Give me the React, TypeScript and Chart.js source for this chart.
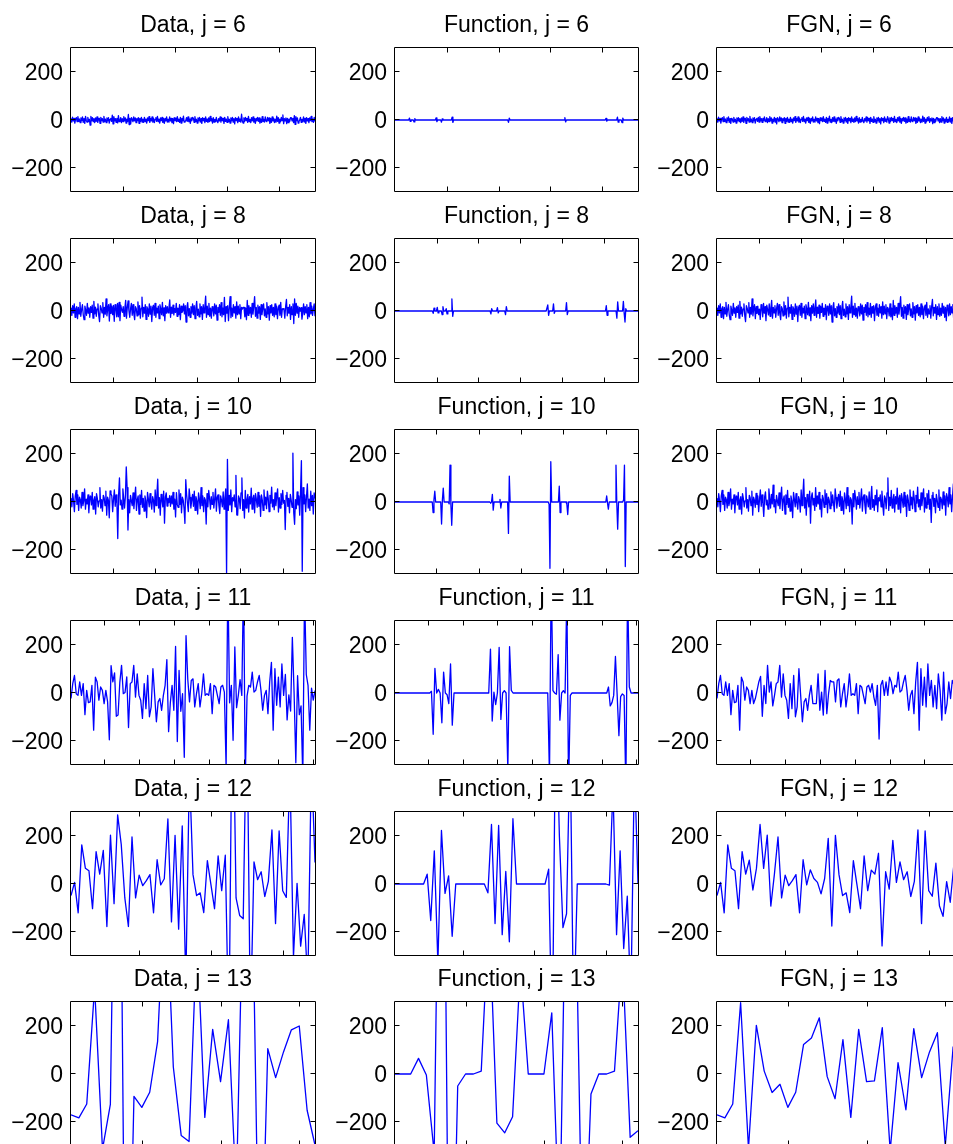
import React, { useEffect, useRef } from 'react';
import { Chart, registerables } from 'chart.js';

Chart.register(...registerables);

const FONT = '"Liberation Sans", Arial, Helvetica, sans-serif';

// ---------- axes / layout description ----------
const levels = [6, 8, 10, 11, 12, 13];
const columnNames = ['Data', 'Function', 'FGN'];
const yTicks = [-200, 0, 200];
const yMin = -300;
const yMax = 300;
const lengths6 = 4692;
const lengths8 = 1165;
const lengths10 = 288;
const lengths11 = 141;
const lengths12 = 69;
const lengths13 = 32;
const xTicks6 = [1000, 2000, 3000, 4000];
const xTicks8 = [200, 400, 600, 800, 1000];
const xTicks10 = [50, 100, 150, 200, 250];
const xTicks11 = [20, 40, 60, 80, 100, 120, 140];
const xTicks12 = [20, 40, 60];
const xTicks13 = [10, 20, 30];

// ---------- j = 13 ----------
const fgn13 = [-170, -183, -125, 297, -310, 203, 12, -77, -43, -139, -76, 123, 150, 234, -11, -103, 143, -181, 186, -32, -29, 193, -320, 47, -149, 189, -15, 92, 172, -300, 113, -60];
const func13 = [0, 0, 0, 65, -4, -330, 2100, -1500, -50, 0, 0, 12, 675, -205, -245, -178, 450, 0, 0, 0, 255, -700, 1300, 845, -973, -83, 0, 0, 12, 500, -264, -236];

// ---------- j = 12 ----------
const fgn12 = [-48, 7, -120, 163, 66, 55, -103, 135, 41, 99, -25, 66, 248, 65, 204, -92, 41, 196, -58, 37, -7, 14, 39, -120, 101, -4, 59, 23, 7, -41, 23, 190, -175, 203, 39, -48, -37, -119, 97, -3, -103, 117, -28, 58, 41, 128, -258, 51, -21, 182, 7, 92, 18, 51, -52, 11, 225, -165, 221, -28, -51, 87, -92, -135, 10, -76, 79, 20, 90];
const func12 = [0, 0, 0, 0, 0, 0, 0, 0, 0, 41, -152, 138, -330, 223, -39, 34, -218, 0, 0, 0, 0, 0, 0, 0, 0, 0, -37, 248, -165, 244, -211, 52, -241, 272, 0, 0, 0, 0, 0, 0, 0, 0, 0, 62, -700, 800, 200, -182, -124, 600, -600, 0, 0, 0, 0, 0, 0, 0, 0, 0, -5, 400, -211, 138, -269, -51, -500, 500, 0];

// ---------- j = 11 ----------
const fgn11 = [-23, 39, 73, -3, -10, 46, -10, 39, -90, 11, -40, -37, 32, -155, 66, 46, -30, 25, 11, -44, 11, -44, -23, 11, 46, 69, -97, 32, -44, 115, 4, 46, -54, -10, 39, 46, 115, -17, 80, -10, -30, -106, 39, -65, 73, -99, -58, 101, -10, -120, -37, -23, -72, -10, 32, -44, -44, -44, 80, -72, 4, -92, 94, -86, -3, 52, 46, 46, -37, 52, 59, -58, -3, 39, -58, -3, 80, -10, -3, -10, 39, -86, 32, 25, -10, -44, 25, 32, 4, 39, -17, -51, 32, -192, 32, 52, -10, 46, -10, 66, 46, -3, 32, 25, 87, 4, 11, 46, 73, 11, -72, -10, 11, -86, 46, 128, -155, 101, -51, 66, -58, 121, -10, 52, -58, 32, -65, 80, 11, -113, 87, -86, -44, 46, -23, 52, 32, -155, 20, -30, 10];
const func11 = [
  0, 0, 0, 0, 0, 0, 0, 0, 0, 0, 0, 0, 0, 0, 0, 0, 0, 0, 0, 0, 0,
  7, -172, 103, 0, 15, 0, -124, 87, 0, -7, -44, 121, -134,
  0, 0, 0, 0, 0, 0, 0, 0, 0, 0, 0, 0, 0, 0, 0, 0, 0, 0, 0, 0, 0,
  183, -117, 4, -48, 0, 190, -110, 0, 10, 0, -320, 193, 11,
  0, 0, 0, 0, 0, 0, 0, 0, 0, 0, 0, 0, 0, 0, 0, 0, 0, 0, 0, 0, 0,
  -350, 500, 10, 0, -5, 160, -113, 0, 10, 0, 420, -400, -10,
  0, 0, 0, 0, 0, 0, 0, 0, 0, 0, 0, 0, 0, 0, 0, 0, 0, 0, 0, 0, 0,
  25, -54, -40, -10, 152, -10, -178, -15, -4, -10, -400, 450, 25,
  0, 0, 0, 0, 0,
];

// ---------- j = 10 ----------
const fgn10 = [
  15, -20, 35, 5, -40, 25, 48, -10, 30, -35, 20, 10, -25, 40, -15, 5, 55, -30, 12, -8, 30, -45, 18, 25,
  -12, 40, -30, 8, 22, -50, 35, 15, -20, 5, 60, -25, 10, -38, 28, 18, -15, 45, -55, 20, 8, -22, 36, -10,
  25, -40, 12, 50, -18, 30, -5, -60, 20, 42, -12, 8, -30, 55, 15, -25, 32, -8, 70, -20, 10, -45, 28, 5,
  -15, 38, -28, 18, 62, -35, 10, 25, -50, 30, -10, 48, -22, 15, -38, 25, 5, -65, 40, 12, -20, 35, -5, -30,
  22, 8, -42, 50, -15, 28, 95, -25, 18, -55, 32, 10, -20, 45, -88, 20, 38, -12, 15, -35, 60, -18, 25, -8,
  40, -30, 12, -62, 28, 15, -22, 50, -10, 35, -45, 20, 8, -28, 42, -15, 30, -5, -40, 55, 18, -25, 10, 32,
  -18, 45, -35, 22, 5, -50, 38, 12, -28, 60, -15, 25, -40, 18, 8, -92, 35, -20, 48, 15, -30, 22, -10, 40,
  -25, 12, 55, -38, 20, 30, -15, -48, 25, 8, -20, 42, -30, 15, 65, -22, 10, -35, 28, -12, 50, -40, 18, 5,
  30, -20, 45, -10, -55, 25, 15, -28, 38, 100, -35, 20, -15, 48, -25, 10, 32, -42, 22, -8, 58, -30, 15, 28,
  -45, 35, 12, -22, 40, -18, 25, -60, 30, 8, -35, 50, -12, 20, -28, 45, 15, -40, 28, -5, 62, -20, 10, -32,
  38, -15, 22, 55, -42, 18, -25, 35, -10, 48, -30, 12, -85, 28, 40, -18, 15, -45, 32, 8, -22, 50, -35, 20,
  10, -28, 42, -12, 25, -55, 35, 18, -20, 60, -8, 30, -40, 22, 75, -25, 12, -35, 45, -15, 28, -50, 38, 15,
];
// [sample number, value] of the non-zero coefficients of the function
const func10Spikes: [number, number][] = [
  [46, -44], [47, 10], [48, 45], [56, -92], [57, 10], [58, 58], [65, -8], [66, 154], [67, -10], [68, -97],
  [114, -5], [116, 32], [117, -34], [125, 11], [126, -25], [135, -131], [136, 108],
  [183, -10], [184, -276], [185, 168], [195, 66], [196, -44], [204, -10], [205, -52],
  [251, 25], [252, -5], [253, -30], [262, 154], [263, -10], [264, -113], [271, 10], [272, 154], [273, -269],
];

// ---------- j = 8 (sampled) ----------
const fgn8 = [
  12, -18, 22, -8, 30, -26, 9, 18, -32, 15, -12, 36, -22, 7, 26, -15, -36, 20, 4, -18, 32, -9, 13, -26, 18,
  -6, 24, -30, 40, -12, 16, -22, 9, 30, -18, -44, 22, 12, -8, 35, -26, 15, -13, 50, -20, 9, 26, -32, 18, -10,
  20, -15, 8, -35, 26, 13, -24, 32, -9, 18, -40, 24, 6, -16, 30, -22, 12, 44, -30, 15, -8, 22, -26, 10, 32,
  -18, 26, -12, -36, 18, 9, -20, 38, -15, 22, -30, 12, 58, -24, 15, -9, 26, -35, 18, 8, -22, 30, -13, 20, -44,
  15, 24, -18, 32, -26, 12, -8, 20, -32, 26, 9, -15, 36, -20, 13, -40, 22, -9, 30, -18, 12, 46, -26, 16, -10,
  24, -30, 18, -6, 32, -22, 12, -15, 26, -36, 20, 9, -18, 30, -12, 22, -46, 15, 35, -20, 10, -26, 18, -9, 30,
  -15, 22, -32, 12, 40, -18, 8, -24, 30, -12, 18, -35, 26, -8, 15, 62, -26, 20, -15, 32, -22, 12, -30, 18, 9,
  -20, 30, -12, 24, -38, 15, -6, 26, -18, 35, -24, 12, -15, 32, -26, 18, -9, 22, -40, 15, 30, -18, 12, -22, 26,
  -8, 18, -30, 38, -15, 20, -12, 26, -32, 15, 8, -20, 30, -24, 12, -36, 44, -18, 22, -9, 15, -26, 32, -13, 20,
  60, -22, 15, -30, 24, -9, 18, -35, 26, -15, 12, 30, -20, 9, -26, 35, -12, 18, -38, 22, -8, 26, -18, 15, -24,
  30, -15, 20, -32, 12, 24, -18, 36, -26, 9, -12, 22, -30, 18, 48, -20, 15, -9, 26, -35, 18, -15, 30, -22, 12,
  -18, 32, -9, 20, -26, 15, -40, 24, 12, -20, 30, -15, 18, -8, 26, -32, 15, -24, 35, -12, 20, -18, 9, 30, -22,
];
const func8Spikes: [number, number][] = [
  [48, -10], [49, 12], [53, 15], [54, -8], [59, -15], [60, 18], [64, 10], [65, -12], [71, 50], [72, -22],
  [119, -12], [120, 10], [127, 14], [128, -8], [137, -15], [138, 18],
  [189, 25], [190, -18], [196, 30], [197, -10], [212, 35], [213, -15],
  [261, 22], [262, -18], [274, -30], [275, 38], [282, 40], [283, -10], [284, -46], [285, 10],
];

// ---------- j = 6 (sampled) ----------
const fgn6 = [
  6, -9, 12, -4, 7, -13, 3, 10, -7, 14, -6, 4, -11, 9, -3, 13, -10, 6, -14, 7, 4, -9, 11, -6, 3, -13, 9, -4, 10, -7, 6, -11,
  9, -6, 13, -10, 4, 7, -14, 11, -3, 6, -9, 15, -7, 4, -11, 9, -4, 10, -13, 3, 7, -6, 11, -9, 14, -4, 6, -10, 7, -3, 13, -7,
  -4, 10, -11, 6, -7, 14, -3, 9, -13, 4, -6, 11, -9, 7, -16, 10, 3, -7, 13, -4, 9, -11, 6, -3, 10, -14, 7, -6, 11, -9, 4, -10,
  11, -7, 4, -13, 9, -3, 14, -10, 6, -4, 13, -9, 7, -11, 3, 10, -6, 15, -7, 4, -13, 9, -3, 11, -10, 6, -14, 7, -4, 13, -9, 3,
  -9, 13, -4, 7, -11, 6, -15, 10, -3, 9, -7, 14, -6, 4, -10, 11, -13, 7, -4, 16, -9, 3, -11, 10, -6, 13, -7, 4, -14, 9, -3, 11,
  7, -10, 14, -6, 3, -13, 9, -4, 11, -9, 6, -14, 10, -3, 7, -11, 13, -6, 4, -10, 9, -7, 15, -4, 6, -13, 10, -9, 3, -7, 11, -6,
  -11, 6, -4, 13, -9, 10, -3, 7, -14, 11, -6, 4, -10, 14, -7, 3, -13, 9, -4, 11, -9, 6, -16, 10, -3, 7, -11, 13, -6, 4, -9, 14,
  4, -13, 9, -6, 11, -3, 7, -10, 15, -7, 3, -11, 10, -4, 13, -9, 6, -14, 7, -3, 11, -6, 9, -13, 4, -10, 14, -7, 3, -9, 13, -4,
  -7, 11, -3, 9, -14, 6, -10, 13, -4, 7, -11, 3, -9, 16, -6, 10, -13, 4, -7, 11, -3, 14, -10, 6, -4, 9, -15, 7, -11, 4, -6, 10,
  10, -4, 7, -11, 6, -9, 14, -3, 9, -13, 4, -7, 11, -10, 3, -6, 13, -9, 7, -14, 10, -4, 6, -11, 9, -3, 15, -7, 4, -10, 11, -6,
];
const func6Spikes: [number, number][] = [
  [20, 8], [21, -6], [26, -8], [27, 6], [55, 9], [56, -7], [62, -9], [63, 5], [76, 12], [77, -10],
  [150, -10], [151, 8], [224, 10], [225, -8], [278, 7], [279, -5], [293, 12], [294, -9], [299, -11], [300, 8],
];

// ---------- geometry ----------
const colLeft = [71, 395, 717];
const colWidth = [244, 243, 244];
const rowTop = [48, 239, 430, 621, 812, 1002];
const PLOT_H = 144;
const AXIS_W = 70;
const PAD_TOP = 48;
const PAD_RIGHT = 6;
const PAD_BOTTOM = 30;
const TICK = 5;

function fromSpikes(len: number, spikes: [number, number][]) {
  const out: number[] = new Array(len).fill(0);
  spikes.forEach(([k, v]) => { out[k - 1] = v; });
  return out;
}
function sum(a: number[], b: number[]) {
  return a.map((v, i) => v + (b[i] || 0));
}
function toPoints(values: number[], n: number) {
  const m = values.length;
  return values.map((y, i) => ({ x: 1 + (i * (n - 1)) / (m - 1), y }));
}

const func10 = fromSpikes(fgn10.length, func10Spikes);
const func8 = fromSpikes(fgn8.length, func8Spikes);
const func6 = fromSpikes(fgn6.length, func6Spikes);

type Row = { n: number; ticks: number[]; series: number[][] };
const rows: Row[] = [
  { n: lengths6, ticks: xTicks6, series: [sum(fgn6, func6), func6, fgn6] },
  { n: lengths8, ticks: xTicks8, series: [sum(fgn8, func8), func8, fgn8] },
  { n: lengths10, ticks: xTicks10, series: [sum(fgn10, func10), func10, fgn10] },
  { n: lengths11, ticks: xTicks11, series: [sum(fgn11, func11), func11, fgn11] },
  { n: lengths12, ticks: xTicks12, series: [sum(fgn12, func12), func12, fgn12] },
  { n: lengths13, ticks: xTicks13, series: [sum(fgn13, func13), func13, fgn13] },
];

const framePlugin = {
  id: 'frame',
  afterDraw(chart: any, _args: any, opts: any) {
    const { ctx, chartArea: a, scales } = chart;
    ctx.save();
    ctx.strokeStyle = '#000';
    ctx.lineWidth = 1;
    const l = a.left - 0.5;
    const r = a.right + 0.5;
    const t = a.top - 0.5;
    const b = a.bottom - 0.5;
    ctx.beginPath();
    ctx.rect(l, t, r - l, b - t);
    for (const v of yTicks) {
      const y = Math.round(scales.y.getPixelForValue(v)) - 0.5;
      ctx.moveTo(l, y); ctx.lineTo(l + TICK, y);
      ctx.moveTo(r, y); ctx.lineTo(r - TICK, y);
    }
    for (const v of opts.xTicks as number[]) {
      const x = Math.round(scales.x.getPixelForValue(v)) + 0.5;
      ctx.moveTo(x, b); ctx.lineTo(x, b - TICK);
      ctx.moveTo(x, t); ctx.lineTo(x, t + TICK);
    }
    ctx.stroke();
    ctx.fillStyle = '#000';
    ctx.font = `23px ${FONT}`;
    ctx.textAlign = 'center';
    ctx.textBaseline = 'alphabetic';
    ctx.fillText(opts.title, (a.left + a.right) / 2, a.top - 16);
    ctx.restore();
  },
};

function fmt(v: number) {
  return v < 0 ? '\u2212' + Math.abs(v) : String(v);
}

type PanelProps = { title: string; values: number[]; n: number; ticks: number[]; left: number; top: number; width: number };

function Panel({ title, values, n, ticks, left, top, width }: PanelProps) {
  const ref = useRef<HTMLCanvasElement>(null);
  useEffect(() => {
    const chart = new Chart(ref.current as HTMLCanvasElement, {
      type: 'line',
      data: {
        datasets: [{
          data: toPoints(values, n),
          borderColor: '#0000ff',
          borderWidth: 1.3,
          borderJoinStyle: 'round',
          pointRadius: 0,
          tension: 0,
          fill: false,
        }],
      },
      options: {
        animation: false,
        responsive: false,
        devicePixelRatio: 1,
        events: [],
        parsing: false,
        normalized: true,
        layout: { padding: { left: 0, top: PAD_TOP, right: PAD_RIGHT, bottom: PAD_BOTTOM } },
        plugins: {
          legend: { display: false },
          tooltip: { enabled: false },
          frame: { title, xTicks: ticks },
        } as any,
        scales: {
          x: { type: 'linear', min: 1, max: n, display: false },
          y: {
            type: 'linear',
            min: yMin,
            max: yMax,
            afterFit: (s: any) => { s.width = AXIS_W; },
            afterBuildTicks: (s: any) => { s.ticks = yTicks.map((v) => ({ value: v })); },
            grid: { display: false, drawTicks: false },
            border: { display: false },
            ticks: {
              autoSkip: false,
              font: { family: FONT, size: 23 },
              color: '#000',
              padding: 8,
              labelOffset: 2,
              callback: (v: any) => fmt(Number(v)),
            },
          },
        },
      } as any,
      plugins: [framePlugin],
    });
    return () => chart.destroy();
  }, [title, values, n, ticks, width]);
  return (
    <canvas
      ref={ref}
      width={AXIS_W + width + PAD_RIGHT}
      height={PAD_TOP + PLOT_H + PAD_BOTTOM}
      style={{ position: 'absolute', left: left - AXIS_W, top: top - PAD_TOP, width: AXIS_W + width + PAD_RIGHT, height: PAD_TOP + PLOT_H + PAD_BOTTOM }}
    />
  );
}

export default function App() {
  return (
    <div style={{ position: 'absolute', left: 0, top: 0, width: 953, height: 1144, overflow: 'hidden', background: '#fff' }}>
      {rows.map((row, ri) =>
        columnNames.map((name, ci) => (
          <Panel
            key={`${ri}-${ci}`}
            title={`${name}, j = ${levels[ri]}`}
            values={row.series[ci]}
            n={row.n}
            ticks={row.ticks}
            left={colLeft[ci]}
            top={rowTop[ri]}
            width={colWidth[ci]}
          />
        ))
      )}
    </div>
  );
}
